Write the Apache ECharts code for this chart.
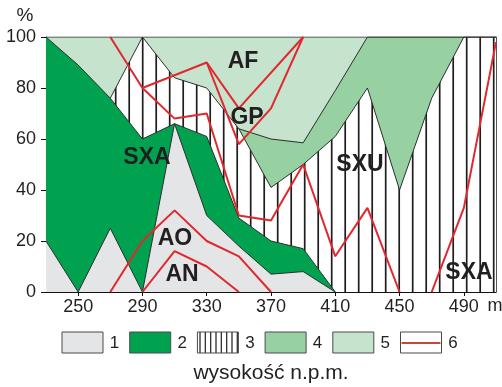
<!DOCTYPE html>
<html>
<head>
<meta charset="utf-8">
<script src="https://cdn.jsdelivr.net/npm/echarts@6.0.0/dist/echarts.min.js"></script>
<style>
html,body{margin:0;padding:0;background:#fff;}
#main{width:502px;height:387px;}
</style>
</head>
<body>
<div id="main"></div>
<script>
// wysokosc n.p.m. (m)
var altitudes = [230, 250, 270, 290, 310, 330, 350, 370, 390, 410, 430, 450, 470, 490, 510];
var xTicks = [250, 290, 330, 370, 410, 450, 490];

// gorne granice pol (%), od dolu
var type1 = [20, 0, 25, 0, 66, 30, 18, 7, 8, 0, null, null, null, null, null];
var type2 = [100, 89, 76, 60, 66, 61, 29, 20, 17, 0, null, null, null, null, null];
var type3 = [null, null, 76, 100, 84, 80, 64, 41, 50, 61, 80, 40, 76, 100, 100];
var type4 = [null, null, null, null, null, null, 64, 60, 58.5, 79, 100, 100, 100, 100, 100];
var type5 = [100, 100, 100, 100, 100, 100, 100, 100, 100, 100, 100, 100, 100, 100, 100];

// czerwone linie (6)
var redAN = [null, null, null, 0, 16, 10, 0, null, null, null, null, null, null, null, null];
var redAO = [null, null, 0, 20, 32, 20, 14, 0, null, null, null, null, null, null, null];
var redC = [null, null, 100, 80, 68, 70, 30, 28, 50, 14, 33, 0, null, null, null];
var redD = [null, null, null, 80, null, 90, 72, null, 100, null, null, null, null, null, null];
var redE = [null, null, null, null, null, 90, 58, 72, 100, null, null, null, null, null, null];
var redF = [null, null, null, null, null, null, null, null, null, null, null, null, 0, 33, 98];

var colors = ['#e4e5e7', '#00a24f', null, '#97d0a1', '#c5e3cd'];
var redColor = '#e0282e';
var edgeColor = '#2e2e2e';
var font = '"Liberation Sans", Arial, sans-serif';

function pairs(arr) {
    return altitudes.map(function (a, i) { return [a, arr[i]]; })
        .filter(function (p) { return p[1] != null; });
}

function stripes(w, lines, lw) {
    var c = document.createElement('canvas');
    c.width = w; c.height = 4;
    var ctx = c.getContext('2d');
    ctx.fillStyle = '#fff';
    ctx.fillRect(0, 0, w, 4);
    ctx.fillStyle = '#1e1e1e';
    lines.forEach(function (x) { ctx.fillRect(x - lw / 2, 0, lw, 4); });
    return c;
}
var stripeFill = {image: stripes(27, [7.7, 21.2], 1.7), repeat: 'repeat'};
var stripeLegend = {image: stripes(16, [2.7, 8, 13.3], 1.2), repeat: 'repeat'};

function areaSeries(name, arr, fill) {
    return {
        name: name,
        type: 'line',
        data: pairs(arr),
        symbol: 'none',
        animation: false,
        lineStyle: {color: edgeColor, width: 1},
        areaStyle: {color: fill, opacity: 1}
    };
}
function redSeries(arr) {
    return {
        type: 'line',
        data: pairs(arr),
        symbol: 'none',
        animation: false,
        z: 5,
        lineStyle: {color: redColor, width: 2}
    };
}

var chart = echarts.init(document.getElementById('main'));

var graphics = [];
function label(text, x, y, size, bold) {
    graphics.push({
        type: 'text', z: 100,
        style: {
            text: text, x: x, y: y, fill: '#231f20',
            font: (bold ? 'bold ' : '') + size + 'px ' + font,
            textAlign: 'center', textVerticalAlign: 'middle'
        }
    });
}
label('AF', 243, 62, 23, true);
label('GP', 247, 118, 23, true);
label('SXA', 147, 158, 23, true);
label('SXU', 360, 165, 23, true);
label('AO', 175, 239, 23, true);
label('AN', 182, 275, 23, true);
label('SXA', 469, 273, 23, true);
label('%', 25, 16, 19, false);
label('m', 495, 306, 18, false);
label('wysokość n.p.m.', 271, 373, 21, false);

// legenda
var legendFills = [colors[0], colors[1], stripeLegend, colors[3], colors[4], '#fff'];
legendFills.forEach(function (f, i) {
    var x0 = 62 + i * 67.7;
    graphics.push({
        type: 'rect', z: 100,
        shape: {x: x0, y: 332, width: 41, height: 21},
        style: {fill: f, stroke: '#4a4a4a', lineWidth: 1}
    });
    if (i == 5) {
        graphics.push({
            type: 'line', z: 101,
            shape: {x1: x0 + 1, y1: 343, x2: x0 + 40, y2: 343},
            style: {stroke: '#bf4a36', lineWidth: 2}
        });
    }
    label(String(i + 1), x0 + 52.5, 343.5, 17, false);
});

var option = {
    backgroundColor: '#fff',
    animation: false,
    grid: {left: 46, right: 6, top: 37, bottom: 95, outerBoundsMode: 'none'},
    xAxis: {
        type: 'value',
        min: 230,
        max: 510,
        splitLine: {show: false},
        axisLine: {lineStyle: {color: '#111', width: 1}},
        axisTick: {show: true, length: 4, customValues: xTicks, lineStyle: {color: '#111'}},
        axisLabel: {customValues: xTicks, color: '#231f20', fontSize: 18, fontFamily: font, margin: 6}
    },
    yAxis: [{
        type: 'value',
        min: 0,
        max: 100,
        interval: 20,
        splitLine: {show: false},
        axisLine: {show: true, lineStyle: {color: '#111', width: 1}},
        axisTick: {show: true, length: 5, lineStyle: {color: '#111'}},
        axisLabel: {color: '#231f20', fontSize: 18, fontFamily: font, margin: 10}
    }, {
        type: 'value',
        position: 'right',
        min: 0,
        max: 100,
        splitLine: {show: false},
        axisLine: {show: true, lineStyle: {color: '#555', width: 1}},
        axisTick: {show: false},
        axisLabel: {show: false}
    }],
    graphic: {elements: graphics},
    series: [
        areaSeries('5', type5, colors[4]),
        areaSeries('4', type4, colors[3]),
        areaSeries('3', type3, stripeFill),
        areaSeries('2', type2, colors[1]),
        areaSeries('1', type1, colors[0]),
        redSeries(redAN),
        redSeries(redAO),
        redSeries(redC),
        redSeries(redD),
        redSeries(redE),
        redSeries(redF)
    ]
};
chart.setOption(option);
</script>
</body>
</html>
